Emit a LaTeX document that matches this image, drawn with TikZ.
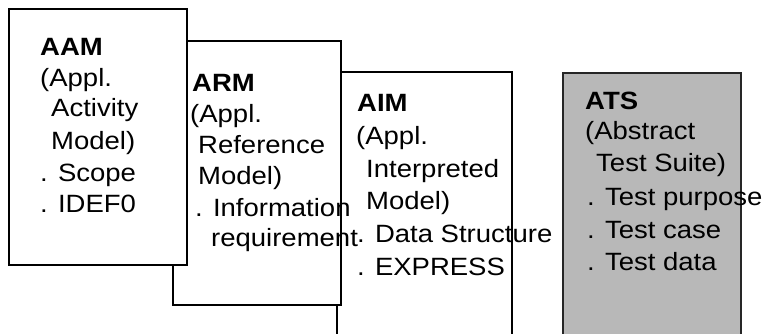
\documentclass[tikz,border=0pt]{standalone}
\usepackage{fontspec}
\setmainfont[FakeStretch=1.1]{Liberation Sans}
\begin{document}
\begin{tikzpicture}[x=1pt,y=-1pt,
  box/.style={draw=black,line width=1.2pt,fill=white},
  greybox/.style={draw=black!85,line width=1.2pt,fill=black!28},
  txt/.style={anchor=base west,inner sep=0pt,font=\fontsize{25}{30}\selectfont}]
\clip (0,0) rectangle (769,334);
\fill[white] (0,0) rectangle (769,334);
% boxes, back to front
\draw[box] (337,72) rectangle (512,345);
\draw[box] (173,41) rectangle (341,305);
\draw[box] (9,9) rectangle (187,265);
\draw[greybox] (563,73) rectangle (741,345);
% AAM
\node[txt] (aam1) at (40,56) {\textbf{AAM}};
\node[txt] (aam2) at (40,87) {(Appl.};
\node[txt] (aam3) at (51,117) {Activity};
\node[txt] (aam4) at (51,150) {Model)};
\node[txt] (aam5) at (40,182) {. Scope};
\node[txt] (aam6) at (40,212) {. IDEF0};
% ARM
\node[txt] (arm1) at (192,92) {\textbf{ARM}};
\node[txt] (arm2) at (190,123) {(Appl.};
\node[txt] (arm3) at (198,154) {Reference};
\node[txt] (arm4) at (198,185) {Model)};
\node[txt] (arm5) at (195,216) {. Information};
\node[txt] (arm6) at (211,247) {requirement};
% AIM
\node[txt] (aim1) at (357,112) {\textbf{AIM}};
\node[txt] (aim2) at (356,145) {(Appl.};
\node[txt] (aim3) at (366,178) {Interpreted};
\node[txt] (aim4) at (366,210) {Model)};
\node[txt] (aim5) at (357,242) {. Data Structure};
\node[txt] (aim6) at (357,275) {. EXPRESS};
% ATS
\node[txt] (ats1) at (585,110) {\textbf{ATS}};
\node[txt] (ats2) at (585,140) {(Abstract};
\node[txt] (ats3) at (596,172) {Test Suite)};
\node[txt] (ats4) at (587,205) {. Test purpose};
\node[txt] (ats5) at (587,238) {. Test case};
\node[txt] (ats6) at (587,270) {. Test data};
\end{tikzpicture}
\end{document}
